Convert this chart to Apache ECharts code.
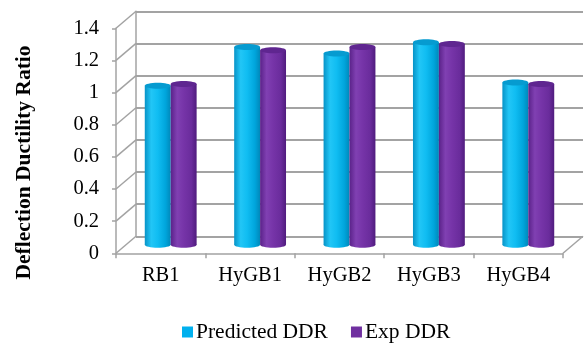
<!DOCTYPE html>
<html>
<head>
<meta charset="utf-8">
<script src="https://cdn.jsdelivr.net/npm/echarts@6/dist/echarts.min.js"></script>
<style>
  html, body { margin: 0; padding: 0; background: #fff; }
  #chart { width: 587px; height: 347px; }
</style>
</head>
<body>
<div id="chart"></div>
<script>
// Beam specimens and their deflection ductility ratios
const categories = ['RB1', 'HyGB1', 'HyGB2', 'HyGB3', 'HyGB4'];
const predictedDDR = [0.99, 1.23, 1.19, 1.26, 1.01];
const expDDR = [1.00, 1.21, 1.23, 1.25, 1.00];
const yTicks = [0, 0.2, 0.4, 0.6, 0.8, 1.0, 1.2, 1.4];
const seriesNames = ['Predicted DDR', 'Exp DDR'];
const yTitle = 'Deflection Ductility Ratio';

// Pseudo-3D layout: front plane (axes), middle plane (bars), back wall
const FONT = '"Liberation Serif", "Times New Roman", serif';
const DX = 20, DY = 17;                // depth offset from front to back wall
const front = { left: 116, right: 24, top: 28.3, bottom: 93.7 };
const shift = (g, k) => ({
  left: g.left + DX * k, right: g.right - DX * k,
  top: g.top - DY * k, bottom: g.bottom + DY * k
});
const back = shift(front, 1);
const mid = shift(front, 0.5);
const GRID_COLOR = '#a3a3a3';

const palettes = {
  pred: { side: ['#0793c7', '#22c6f6', '#10bdf2', '#00a5dc', '#0088ba'], top: '#069bd0', base: '#00b0ee' },
  exp:  { side: ['#5a2289', '#8040b2', '#7634a8', '#6a2c9c', '#501c7e'], top: '#5f2690', base: '#7030a0' }
};

function cylinder(sign, pal) {
  return function (params, api) {
    const cat = api.value(0), val = api.value(1);
    const top = api.coord([cat, val]);
    const bottom = api.coord([cat, 0]);
    const band = api.size([1, 0])[0];
    const w = band * 0.29;
    const cx = top[0] + sign * w / 2;
    const ry = 3;
    const side = new echarts.graphic.LinearGradient(0, 0, 1, 0, [
      { offset: 0, color: pal.side[0] },
      { offset: 0.25, color: pal.side[1] },
      { offset: 0.5, color: pal.side[2] },
      { offset: 0.8, color: pal.side[3] },
      { offset: 1, color: pal.side[4] }
    ]);
    return {
      type: 'group',
      children: [
        { type: 'ellipse', shape: { cx: cx, cy: bottom[1], rx: w / 2, ry: ry }, style: { fill: side } },
        { type: 'rect', shape: { x: cx - w / 2, y: top[1], width: w, height: bottom[1] - top[1] }, style: { fill: side } },
        { type: 'ellipse', shape: { cx: cx, cy: top[1], rx: w / 2, ry: ry }, style: { fill: pal.top } }
      ]
    };
  };
}

// Side wall and floor depth edges, drawn on the front grid
function depthEdges(params, api) {
  const v = api.value(0);
  const band = api.size([1, 0])[0];
  const lines = [];
  const p = api.coord([0, v]);
  const x0 = p[0] - band / 2;
  lines.push({ type: 'line', shape: { x1: x0, y1: p[1], x2: x0 + DX, y2: p[1] - DY },
    style: { stroke: GRID_COLOR, lineWidth: 1.5 } });
  if (v === 0) {
    const q = api.coord([categories.length - 1, 0]);
    const x1 = q[0] + band / 2;
    lines.push({ type: 'line', shape: { x1: x1, y1: q[1], x2: x1 + DX, y2: q[1] - DY },
      style: { stroke: GRID_COLOR, lineWidth: 1.5 } });
  }
  return { type: 'group', children: lines };
}

const chart = echarts.init(document.getElementById('chart'), null, { renderer: 'canvas' });
const yMin = yTicks[0], yMax = yTicks[yTicks.length - 1], yStep = yTicks[1] - yTicks[0];

chart.setOption({
  animation: false,
  backgroundColor: '#fff',
  textStyle: { fontFamily: FONT },
  grid: [
    Object.assign({}, front),
    Object.assign({}, back),
    Object.assign({}, mid)
  ],
  xAxis: [
    {
      type: 'category', gridIndex: 0, data: categories,
      axisLine: { show: true, lineStyle: { color: GRID_COLOR, width: 1.5 } },
      axisTick: { show: true, length: 5, lineStyle: { color: GRID_COLOR, width: 1.5 } },
      axisLabel: { color: '#000', fontSize: 20.5, fontFamily: FONT, margin: 12 }
    },
    { type: 'category', gridIndex: 1, data: categories, show: false },
    { type: 'category', gridIndex: 2, data: categories, show: false }
  ],
  yAxis: [
    {
      type: 'value', gridIndex: 0, min: yMin, max: yMax, interval: yStep,
      axisLine: { show: true, lineStyle: { color: GRID_COLOR, width: 1.5 } },
      axisTick: { show: true, length: 4, lineStyle: { color: GRID_COLOR, width: 1.5 } },
      splitLine: { show: false },
      axisLabel: {
        color: '#000', fontSize: 20.5, fontFamily: FONT, margin: 17,
        formatter: v => String(Math.round(v * 10) / 10)
      }
    },
    {
      type: 'value', gridIndex: 1, min: yMin, max: yMax, interval: yStep,
      axisLine: { show: true, lineStyle: { color: GRID_COLOR, width: 1.5 } },
      axisTick: { show: false }, axisLabel: { show: false },
      splitLine: { show: true, lineStyle: { color: GRID_COLOR, width: 2 } }
    },
    { type: 'value', gridIndex: 2, min: yMin, max: yMax, interval: yStep, show: false, splitLine: { show: false } }
  ],
  legend: {
    data: seriesNames,
    left: 182, top: 321, padding: 0,
    icon: 'rect', itemWidth: 11, itemHeight: 11, itemGap: 23,
    textStyle: { color: '#000', fontSize: 21.5, fontFamily: FONT, padding: [0, 0, 0, -2] },
    selectedMode: false
  },
  graphic: [{
    type: 'text', x: 24, y: 162.5, rotation: Math.PI / 2,
    style: {
      text: yTitle, fill: '#000', font: 'bold 21.5px ' + FONT,
      textAlign: 'center', textVerticalAlign: 'middle'
    }
  }],
  series: [
    {
      type: 'custom', name: 'walls', xAxisIndex: 0, yAxisIndex: 0, silent: true,
      renderItem: depthEdges, data: yTicks.map(v => [v]), z: 1
    },
    {
      type: 'custom', name: seriesNames[0], xAxisIndex: 2, yAxisIndex: 2, z: 3,
      itemStyle: { color: palettes.pred.base },
      renderItem: cylinder(-1, palettes.pred),
      data: predictedDDR.map((v, i) => [i, v])
    },
    {
      type: 'custom', name: seriesNames[1], xAxisIndex: 2, yAxisIndex: 2, z: 3,
      itemStyle: { color: palettes.exp.base },
      renderItem: cylinder(1, palettes.exp),
      data: expDDR.map((v, i) => [i, v])
    }
  ]
});
</script>
</body>
</html>
